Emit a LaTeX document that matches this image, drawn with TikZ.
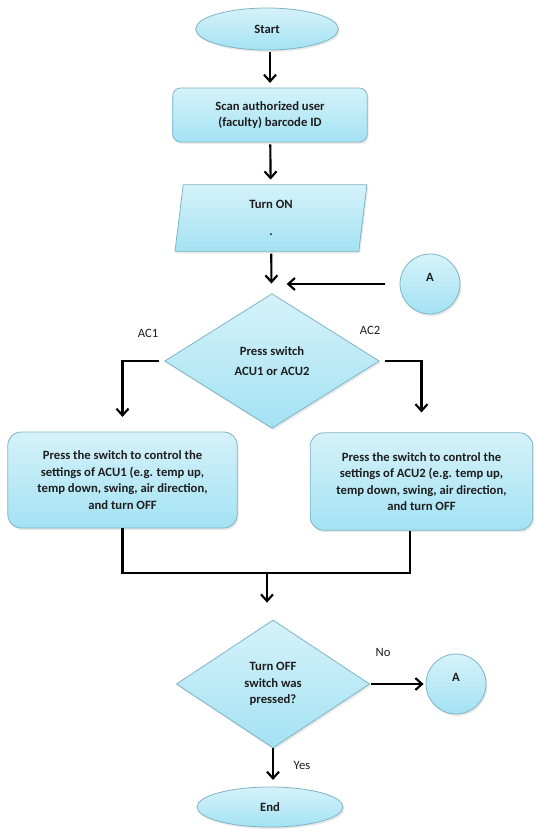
\documentclass[tikz,border=0pt]{standalone}
\usepackage{fontspec}
\setmainfont{Carlito}
\usepackage{tikz}
\usetikzlibrary{arrows.meta,positioning,shapes.geometric,shadows}
\definecolor{fcTop}{HTML}{D6F2FA}
\definecolor{fcBot}{HTML}{A3E2F3}
\definecolor{fcEdge}{HTML}{7DB5C4}
\definecolor{fcInk}{HTML}{1E1E1E}
\tikzset{
  fcshape/.style={draw=fcEdge,semithick,top color=fcTop,bottom color=fcBot,
    font=\fontsize{9.5}{12.4}\selectfont\bfseries,text=fcInk,
    align=center,inner sep=0pt,
    drop shadow={opacity=0.18,shadow xshift=1pt,shadow yshift=-1.5pt}},
  ovalbox/.style={fcshape,ellipse},
  procbox/.style={fcshape,rectangle,rounded corners=6pt},
  iobox/.style={fcshape,trapezium,trapezium left angle=77,
    trapezium right angle=103,trapezium stretches body},
  decbox/.style={fcshape,diamond},
  conbox/.style={fcshape,circle,minimum size=45pt},
  arr/.style={-{Straight Barb[length=5pt,width=9pt]},line width=1.6pt,color=black},
  ln/.style={line width=1.6pt,color=black},
  lbl/.style={font=\fontsize{9.5}{12}\selectfont,text=fcInk},
}
\begin{document}
\begin{tikzpicture}[x=0.75pt,y=-0.75pt]
  \useasboundingbox (0,0) rectangle (536,831);

  % Main column
  \node[ovalbox,minimum width=107pt,minimum height=31.5pt] (start) at (267,29) {Start};
  \node[procbox,minimum width=146pt,minimum height=40.5pt] (scan) at (270,115)
    {Scan authorized user\\(faculty) barcode ID};
  \node[iobox,minimum width=144pt,minimum height=50pt] (turnon) at (271,218)
    {Turn ON\\[8pt].};
  \node[decbox,minimum width=161pt,minimum height=101pt] (sel) at (272,361)
    {Press switch\\[3pt]ACU1 or ACU2};
  \node[conbox] (conA) at (430,284) {\raisebox{2.2pt}[0pt][0pt]{A}};

  % Branches for the two units
  \node[procbox,rounded corners=10pt,minimum width=172pt,minimum height=72pt] (acu1) at (122.5,480)
    {Press the switch to control the\\settings of ACU1 (e.g. temp up,\\
     temp down, swing, air direction,\\and turn OFF};
  \node[procbox,rounded corners=10pt,minimum width=167pt,minimum height=73pt] (acu2) at (421.5,481.5)
    {Press the switch to control the\\settings of ACU2 (e.g. temp up,\\
     temp down, swing, air direction,\\and turn OFF};

  % Check and end
  \node[decbox,minimum width=145pt,minimum height=96pt] (chk) at (273,684)
    {Turn OFF\\switch was\\pressed?};
  \node[conbox] (conB) at (456,684) {\raisebox{2.2pt}[0pt][0pt]{A}};
  \node[ovalbox,minimum width=109.5pt,minimum height=30pt] (end) at (270,807) {End};

  % Labels
  \node[lbl] (ac1lbl) at (148,333) {AC1};
  \node[lbl] (ac2lbl) at (370,330) {AC2};
  \node[lbl] (nolbl) at (383,652) {No};
  \node[lbl] (yeslbl) at (302,765) {Yes};

  % Connectors
  \draw[arr,shorten <=1.5pt,shorten >=3.5pt] (scan.north |- start.south) -- (scan.north);
  \draw[arr,shorten <=1.5pt,shorten >=3.5pt] (scan) -- (turnon);
  \draw[arr,shorten <=1.5pt,shorten >=7.5pt] (turnon) -- (sel);
  \draw[arr,shorten <=11pt,shorten >=11pt] (conA) -- (conA -| sel);
  \draw[arr,shorten <=4pt,shorten >=11pt] (sel.west) -| (acu1);
  \draw[arr,shorten <=4pt,shorten >=15pt] (sel.east) -| (acu2);
  \coordinate (merge) at (267,573);
  \draw[ln] (acu1.south) |- (merge) -| ([xshift=-8.6pt]acu2.south);
  \draw[arr,shorten >=12.75pt] (merge) -- (merge |- chk.north);
  \draw[arr,shorten <=0.5pt,shorten >=1.5pt] (chk.east) -- (conB);
  \draw[arr,shorten >=5pt] (chk.south) -- (chk.south |- end.north);
\end{tikzpicture}
\end{document}
